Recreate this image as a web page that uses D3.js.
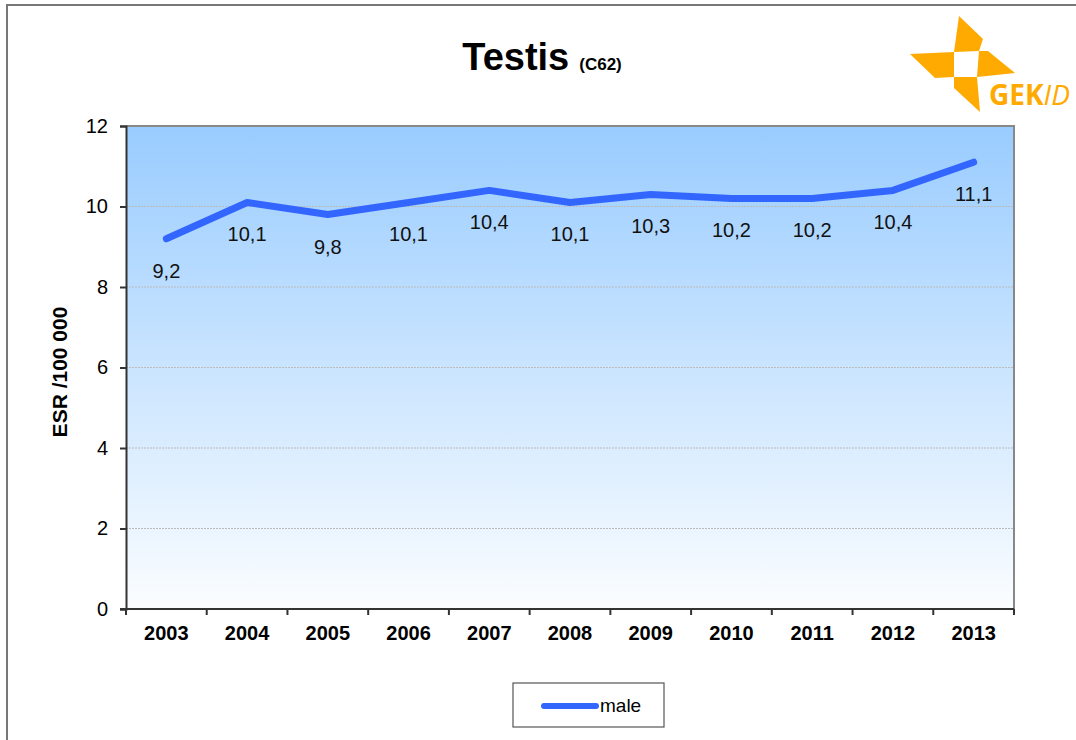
<!DOCTYPE html>
<html><head><meta charset="utf-8">
<script src="https://cdn.jsdelivr.net/npm/d3@7"></script>
<style>body{margin:0;background:#fff}svg{display:block;font-family:"Liberation Sans",Arial,sans-serif}</style>
</head><body>
<svg id="c" width="1076" height="740"></svg>
<script>
const years = ["2003","2004","2005","2006","2007","2008","2009","2010","2011","2012","2013"];
const male = [9.2,10.1,9.8,10.1,10.4,10.1,10.3,10.2,10.2,10.4,11.1];
const yTicks = [0,2,4,6,8,10,12];

const svg = d3.select("#c");
const L=126,R=1014,T=126,B=609;
const x = d3.scaleBand().domain(years).range([L,R]).padding(0);
const y = d3.scaleLinear().domain([0,12]).range([B,T]);
const FF = "Liberation Sans, Arial, sans-serif";

// outer frame
svg.append("path").attr("d","M7,740 L7,5 L1076,5").attr("fill","none").attr("stroke","#777").attr("stroke-width",2);

const defs = svg.append("defs");
const g = defs.append("linearGradient").attr("id","bg").attr("x1",0).attr("y1",0).attr("x2",0).attr("y2",1);
g.append("stop").attr("offset","0").attr("stop-color","#99CCFF");
g.append("stop").attr("offset","1").attr("stop-color","#FBFDFF");
svg.append("rect").attr("x",L).attr("y",T).attr("width",R-L).attr("height",B-T).attr("fill","url(#bg)");

// grid
svg.append("g").selectAll("line").data(yTicks.filter(d=>d>0&&d<12)).join("line")
  .attr("x1",L).attr("x2",R).attr("y1",d=>y(d)).attr("y2",d=>y(d))
  .attr("stroke","#BBBBBB").attr("stroke-width",1).attr("stroke-dasharray","2,1");

// top/right border
svg.append("path").attr("d",`M${L},${T} L${R},${T} L${R},${B+4}`).attr("fill","none").attr("stroke","#888").attr("stroke-width",2);

// y axis
const ya = svg.append("g").attr("transform",`translate(${L},0)`)
  .call(d3.axisLeft(y).tickValues(yTicks).tickSize(6).tickPadding(12).tickFormat(d3.format("d")));
ya.select(".domain").attr("stroke","#333").attr("stroke-width",2);
ya.selectAll(".tick line").attr("stroke","#333").attr("stroke-width",2);
ya.selectAll("text").attr("font-size",20).attr("fill","#000").attr("font-family",FF);

// x axis
const xa = svg.append("g").attr("transform",`translate(0,${B})`)
  .call(d3.axisBottom(x).tickSize(0).tickPadding(17));
xa.select(".domain").remove();
svg.append("line").attr("x1",L-6).attr("x2",R).attr("y1",B).attr("y2",B).attr("stroke","#333").attr("stroke-width",2);
xa.selectAll("text").attr("font-size",20).attr("font-weight","bold").attr("fill","#000").attr("font-family",FF);
svg.append("g").selectAll("line").data(years).join("line")
  .attr("x1",d=>x(d)).attr("x2",d=>x(d)).attr("y1",B).attr("y2",B+6)
  .attr("stroke","#333").attr("stroke-width",2);
svg.append("line").attr("x1",R).attr("x2",R).attr("y1",B).attr("y2",B+6).attr("stroke","#333").attr("stroke-width",2);

// line
const line = d3.line().x((d,i)=>x(years[i])+x.bandwidth()/2).y(d=>y(d));
svg.append("path").datum(male).attr("d",line).attr("fill","none")
  .attr("stroke","#3366FF").attr("stroke-width",7).attr("stroke-linecap","round").attr("stroke-linejoin","round");

// labels
svg.append("g").selectAll("text").data(male).join("text")
  .attr("x",(d,i)=>x(years[i])+x.bandwidth()/2).attr("y",d=>y(d)+39)
  .attr("text-anchor","middle").attr("font-size",20).attr("fill","#111")
  .text(d=>d.toFixed(1).replace(".",","));

// title
const t = svg.append("text").attr("x",542).attr("y",70).attr("text-anchor","middle").attr("font-weight","bold");
t.append("tspan").attr("font-size",38).text("Testis");
t.append("tspan").attr("font-size",17).attr("dx",10).text("(C62)");

// y label
svg.append("text").attr("transform","translate(67,372) rotate(-90)").attr("text-anchor","middle")
  .attr("font-size",21).attr("font-weight","bold").text("ESR /100 000");

// legend
svg.append("rect").attr("x",513).attr("y",683).attr("width",151).attr("height",44).attr("fill","#fff").attr("stroke","#555").attr("stroke-width",1.2);
svg.append("line").attr("x1",544).attr("x2",596).attr("y1",706).attr("y2",706).attr("stroke","#3366FF").attr("stroke-width",6).attr("stroke-linecap","round");
svg.append("text").attr("x",600).attr("y",712).attr("font-size",19).text("male");

// logo
const og = "#FFAA00";
const pieces = [
  [[959,16],[983,39],[979,51],[954,52]],
  [[979,51],[988,51],[1015,73],[977,77]],
  [[910,54],[954,52],[954,77],[935,78]],
  [[954,77],[977,77],[980,112],[954,88]]
];
svg.append("g").selectAll("path").data(pieces).join("path")
  .attr("d",d=>"M"+d.join("L")+"Z").attr("fill",og);
const lt = svg.append("text").attr("x",989).attr("y",105).attr("font-size",28).attr("fill",og).attr("font-family","Open Sans, sans-serif");
lt.append("tspan").attr("font-weight","bold").text("GEK");
lt.append("tspan").attr("font-style","italic").text("ID");
</script>
</body></html>
